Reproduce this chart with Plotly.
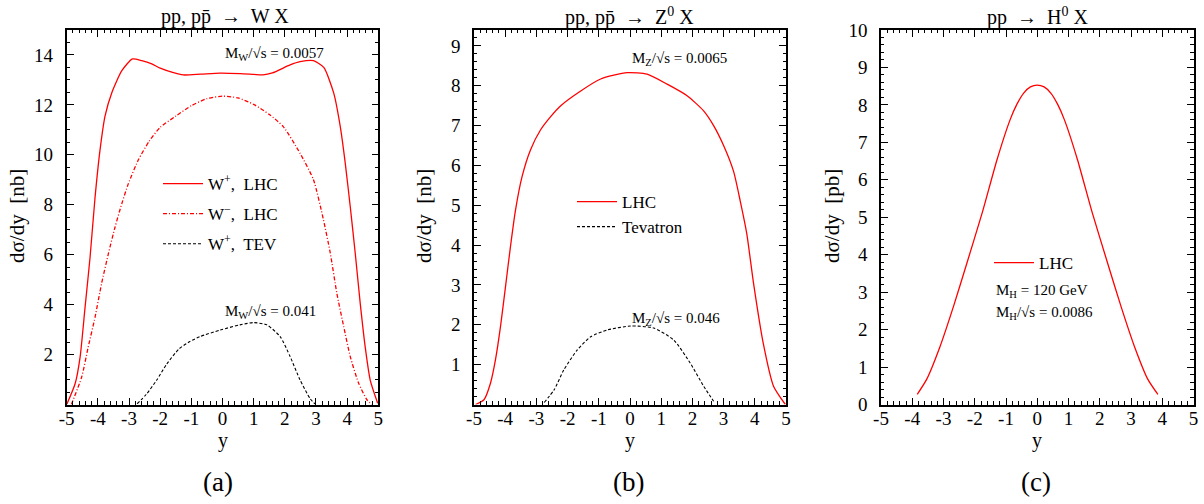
import plotly.graph_objects as go

# ---------------- data ----------------
# Panel (a): pp, ppbar -> W X
wp_lhc_x = [-5, -4.73, -4.57, -4.41, -4.25, -4.09, -3.93, -3.77, -3.55, -3.23, -2.89, -2.59, -2.27, -2.0,
            -1.6, -1.26, -0.7, -0.08, 0.57, 1.0, 1.3, 1.6, 2.17, 2.49, 2.92, 3.25, 3.57, 3.78, 3.94, 4.1,
            4.26, 4.42, 4.58, 4.74, 4.98]
wp_lhc_y = [0, 0.83, 1.9, 3.9, 5.9, 8.3, 10.2, 11.55, 12.5, 13.37, 13.84, 13.77, 13.64, 13.47,
            13.3, 13.2, 13.23, 13.27, 13.25, 13.22, 13.2, 13.28, 13.6, 13.73, 13.77, 13.5, 12.47, 11.13, 9.66, 7.92,
            6.06, 4.05, 2.3, 0.98, 0.05]

wm_lhc_x = [-4.85, -4.52, -4.31, -4.09, -3.88, -3.66, -3.45, -3.23, -3.02, -2.7, -2.35, -2.0, -1.5, -1.0,
            -0.5, 0, 0.5, 1.0, 1.5, 1.95, 2.49, 2.92, 3.24, 3.46, 3.67, 3.89, 4.1, 4.37, 4.64, 4.8]
wm_lhc_y = [0, 1.1, 2.3, 3.5, 4.85, 6.05, 7.1, 8.05, 8.85, 9.8, 10.55, 11.1, 11.55, 11.97,
            12.25, 12.35, 12.28, 12.02, 11.62, 11.13, 10.06, 9.0, 7.4, 6.06, 4.45, 3.12, 1.92, 0.85, 0.18, 0]

wp_tev_x = [-2.74, -2.45, -2.11, -1.79, -1.4, -1.05, -0.72, -0.08, 0.56, 0.99, 1.42, 1.85, 2.17, 2.49, 2.81, 2.97]
wp_tev_y = [0.03, 0.4, 0.98, 1.62, 2.22, 2.52, 2.72, 2.98, 3.19, 3.28, 3.19, 2.72, 1.92, 0.98, 0.24, 0.02]

# Panel (b): pp, ppbar -> Z0 X
z_lhc_x = [-4.95, -4.68, -4.47, -4.31, -4.15, -3.99, -3.83, -3.67, -3.46, -3.19, -2.87, -2.55, -2.22,
           -1.58, -0.94, -0.09, 0.55, 1.19, 1.83, 2.36, 2.68, 3.0, 3.32, 3.53, 3.74, 3.96, 4.27, 4.6, 4.98]
z_lhc_y = [0, 0.12, 0.54, 1.13, 1.96, 2.96, 3.97, 4.88, 5.72, 6.39, 6.89, 7.22, 7.5,
           7.87, 8.17, 8.33, 8.29, 8.04, 7.75, 7.37, 7.0, 6.5, 5.85, 5.12, 4.3, 3.04, 1.54, 0.46, 0]

z_tev_x = [-2.75, -2.43, -2.12, -1.69, -1.26, -0.73, 0.02, 0.76, 1.4, 1.93, 2.36, 2.68]
z_tev_y = [0.05, 0.37, 0.87, 1.37, 1.7, 1.87, 1.97, 1.92, 1.62, 1.04, 0.46, 0.08]

# Panel (c): pp -> H0 X
h_lhc_x = [-3.84, -3.54, -3.11, -2.68, -2.25, -1.75, -1.29, -0.87, -0.65, -0.44, -0.22, 0,
           0.22, 0.44, 0.65, 0.87, 1.29, 1.75, 2.25, 2.68, 3.11, 3.54, 3.86]
h_lhc_y = [0.27, 0.67, 1.55, 2.62, 3.78, 5.15, 6.53, 7.6, 8.02, 8.31, 8.48, 8.53,
           8.48, 8.31, 8.02, 7.6, 6.53, 5.15, 3.78, 2.62, 1.55, 0.67, 0.27]

x_ticks = [-5, -4, -3, -2, -1, 0, 1, 2, 3, 4, 5]
x_ticktext = ["-5", "-4", "-3", "-2", "-1", "0", "1", "2", "3", "4", "5"]
ya_ticks = [2, 4, 6, 8, 10, 12, 14]
yb_ticks = [1, 2, 3, 4, 5, 6, 7, 8, 9]
yc_ticks = [0, 1, 2, 3, 4, 5, 6, 7, 8, 9, 10]

titles = ["pp, pp\u0304  \u2192  W X", "pp, pp\u0304  \u2192  Z<sup>0</sup> X", "pp  \u2192  H<sup>0</sup> X"]
panel_labels = ["(a)", "(b)", "(c)"]
ylabels = ["d\u03c3/dy  [nb]", "d\u03c3/dy  [nb]", "d\u03c3/dy  [pb]"]

# ---------------- figure ----------------
W, H = 1204, 504
FONT = "Liberation Serif"
RED = "#ff0000"

def fx(px):
    return px / W

def fy(py):
    return 1 - py / H

xdoms = [(66.7, 378.3), (474, 786), (881, 1193.5)]
ydom = [fy(404.5), fy(30)]

fig = go.Figure()

fig.add_trace(go.Scatter(x=wp_lhc_x, y=wp_lhc_y, mode="lines", name="W<sup>+</sup>,  LHC",
                         line=dict(color=RED, width=1.3, shape="spline", smoothing=0.6),
                         xaxis="x", yaxis="y", legend="legend", legendgroup="a1"))
fig.add_trace(go.Scatter(x=wm_lhc_x, y=wm_lhc_y, mode="lines", name="W<sup>\u2212</sup>,  LHC",
                         line=dict(color=RED, width=1.3, dash="4px,2px,1px,2px", shape="spline", smoothing=0.6),
                         xaxis="x", yaxis="y", legend="legend", legendgroup="a2"))
fig.add_trace(go.Scatter(x=wp_tev_x, y=wp_tev_y, mode="lines", name="W<sup>+</sup>,  TEV",
                         line=dict(color="black", width=1.1, dash="3px,2px", shape="spline", smoothing=0.6),
                         xaxis="x", yaxis="y", legend="legend", legendgroup="a3"))

fig.add_trace(go.Scatter(x=z_lhc_x, y=z_lhc_y, mode="lines", name="LHC",
                         line=dict(color=RED, width=1.3, shape="spline", smoothing=0.6),
                         xaxis="x2", yaxis="y2", legend="legend2", legendgroup="b1"))
fig.add_trace(go.Scatter(x=z_tev_x, y=z_tev_y, mode="lines", name="Tevatron",
                         line=dict(color="black", width=1.1, dash="3px,2px", shape="spline", smoothing=0.6),
                         xaxis="x2", yaxis="y2", legend="legend2", legendgroup="b2"))

fig.add_trace(go.Scatter(x=h_lhc_x, y=h_lhc_y, mode="lines", name="LHC",
                         line=dict(color=RED, width=1.3, shape="spline", smoothing=0.6),
                         xaxis="x3", yaxis="y3", legend="legend3", legendgroup="c1"))

def xaxis_cfg(dom):
    return dict(domain=[fx(dom[0]), fx(dom[1])], range=[-5, 5], tickvals=x_ticks, ticktext=x_ticktext,
                ticks="inside", ticklen=7, tickwidth=1.2, tickcolor="black", automargin=False,
                minor=dict(dtick=0.2, ticks="inside", ticklen=3.5, tickwidth=1, tickcolor="black"),
                showline=True, linecolor="black", linewidth=1.6, mirror="allticks",
                showgrid=False, zeroline=False, ticklabelstandoff=-4,
                tickfont=dict(family=FONT, size=19, color="black"))

def yaxis_cfg(rng, ticks, minor, anchor):
    return dict(domain=ydom, range=rng, tickvals=ticks, ticktext=[str(t) for t in ticks],
                ticks="inside", ticklen=7, tickwidth=1.2, tickcolor="black", automargin=False,
                minor=dict(dtick=minor, ticks="inside", ticklen=3.5, tickwidth=1, tickcolor="black"),
                showline=True, linecolor="black", linewidth=1.6, mirror="allticks",
                showgrid=False, zeroline=False, anchor=anchor, ticklabelstandoff=8,
                tickfont=dict(family=FONT, size=19, color="black"))

fig.update_layout(
    width=W, height=H, margin=dict(l=0, r=0, t=0, b=0, autoexpand=False),
    paper_bgcolor="white", plot_bgcolor="white",
    font=dict(family=FONT, color="black"),
    xaxis=dict(xaxis_cfg(xdoms[0]), anchor="y"),
    xaxis2=dict(xaxis_cfg(xdoms[1]), anchor="y2"),
    xaxis3=dict(xaxis_cfg(xdoms[2]), anchor="y3"),
    yaxis=yaxis_cfg([0, 15], ya_ticks, 0.5, "x"),
    yaxis2=yaxis_cfg([0, 9.4], yb_ticks, 0.2, "x2"),
    yaxis3=yaxis_cfg([0, 10], yc_ticks, 0.2, "x3"),
    legend=dict(x=fx(158), y=fy(166), xanchor="left", yanchor="top", bgcolor="rgba(0,0,0,0)",
                font=dict(family=FONT, size=17), tracegroupgap=5, itemwidth=40),
    legend2=dict(x=fx(572), y=fy(184), xanchor="left", yanchor="top", bgcolor="rgba(0,0,0,0)",
                 font=dict(family=FONT, size=17), tracegroupgap=0, itemwidth=40),
    legend3=dict(x=fx(989), y=fy(245), xanchor="left", yanchor="top", bgcolor="rgba(0,0,0,0)",
                 font=dict(family=FONT, size=17), itemwidth=40),
)

ann = []
centers = [222.5, 630, 1037]
for i in range(3):
    ann.append(dict(text=titles[i], x=fx([225, 629, 1037][i]), y=fy(17), xref="paper", yref="paper",
                    showarrow=False, xanchor="center", yanchor="middle", font=dict(family=FONT, size=20)))
    ann.append(dict(text=panel_labels[i], x=fx([218, 628, 1036][i]), y=fy(482), xref="paper", yref="paper",
                    showarrow=False, xanchor="center", yanchor="middle", font=dict(family=FONT, size=27)))
    ann.append(dict(text="y", x=fx(centers[i]), y=fy(440), xref="paper", yref="paper",
                    showarrow=False, xanchor="center", yanchor="middle", font=dict(family=FONT, size=20)))
    ann.append(dict(text=ylabels[i], x=fx([17, 424, 832][i]), y=fy(216), xref="paper", yref="paper",
                    showarrow=False, xanchor="center", yanchor="middle", textangle=-90,
                    font=dict(family=FONT, size=21)))

small = [
    ("M<sub>W</sub>/\u221as = 0.0057", 223, 54),
    ("M<sub>W</sub>/\u221as = 0.041", 223, 312),
    ("M<sub>Z</sub>/\u221as = 0.0065", 630, 59),
    ("M<sub>Z</sub>/\u221as = 0.046", 630, 319),
    ("M<sub>H</sub> = 120 GeV", 994, 291),
    ("M<sub>H</sub>/\u221as = 0.0086", 994, 313),
]
for t, px, py in small:
    ann.append(dict(text=t, x=fx(px), y=fy(py), xref="paper", yref="paper", showarrow=False,
                    xanchor="left", yanchor="middle", font=dict(family=FONT, size=15)))

fig.update_layout(annotations=ann)
fig.write_html("out.html", config={"displayModeBar": False},
               post_script="document.body.style.margin='0px';")
